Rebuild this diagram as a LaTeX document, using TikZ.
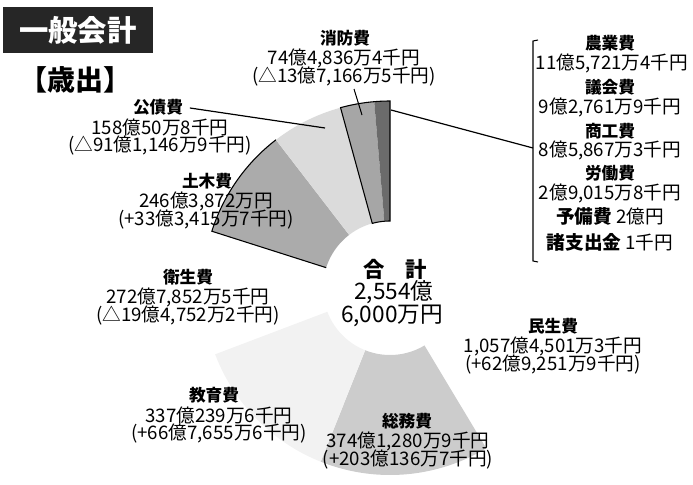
\documentclass[tikz,border=0pt]{standalone}
\usepackage{fontspec}
\setmainfont{Noto Sans CJK JP}
\newcommand\slicefill[3]{\path[#1] plot[domain=#2:#3,samples=40] ({390-187*sin(\x)},{288-187*cos(\x)}) -- plot[domain=#3:#2,samples=40] ({390-67*sin(\x)},{288-67*cos(\x)}) -- cycle;}
\newcommand\mklabel[7]{%
  \node[nm]  (#1-a) at (#2,#4) {#5};
  \node[num] (#1-b) at (#3,#4+20) {#6};
  \node[num] (#1-c) at (#3,#4+39) {#7};}
\begin{document}
\begin{tikzpicture}[x=0.75pt,y=-0.75pt,
  nm/.style={font=\bfseries\fontsize{12.5}{14}\selectfont, inner sep=0pt},
  num/.style={font=\fontsize{14}{16}\selectfont, inner sep=0pt},
  big/.style={font=\fontsize{17}{19}\selectfont, inner sep=0pt},
  lead/.style={draw=black, line width=0.9pt},
  thinlead/.style={draw=black, line width=0.75pt},
  edge/.style={draw=black, line width=0.8pt},
]
\useasboundingbox (0,0) rectangle (693,485);
% ---- donut slices
\slicefill{fill=black!20}{158.26}{210.98}
\slicefill{fill=black!5}{110.77}{158.26}
\slicefill{fill=black!33}{37.60}{72.33}
\slicefill{fill=black!14}{15.34}{37.60}
\slicefill{fill=black!35}{4.84}{15.34}
\slicefill{fill=black!58}{0}{4.84}
% outlines
\draw[edge] plot[domain=37.6:72.33,samples=40] ({390-187*sin(\x)},{288-187*cos(\x)}) -- ({390-67*sin(72.33)},{288-67*cos(72.33)});
\draw[edge] plot[domain=0:15.34,samples=20] ({390-187*sin(\x)},{288-187*cos(\x)}) -- plot[domain=15.34:0,samples=20] ({390-67*sin(\x)},{288-67*cos(\x)}) -- cycle;
% ---- title
\node[fill=black!85, minimum width=150*0.75pt, minimum height=46*0.75pt, inner sep=0pt,
      text=white, font=\bfseries\fontsize{22}{24}\selectfont] (title) at (78,30) {一般会計};
\node[font=\bfseries\fontsize{21}{23}\selectfont, inner sep=0pt] (saishutsu) at (76,80) {【歳出】};
% ---- labels
\mklabel{shobo}{345}{344}{38}{消防費}{74億4,836万4千円}{(△13億7,166万5千円)}
\mklabel{kosai}{158}{160}{107}{公債費}{158億50万8千円}{(△91億1,146万9千円)}
\mklabel{doboku}{207}{206}{181}{土木費}{246億3,872万円}{(+33億3,415万7千円)}
\mklabel{eisei}{188}{188}{277}{衛生費}{272億7,852万5千円}{(△19億4,752万2千円)}
\mklabel{kyoiku}{214}{219}{395}{教育費}{337億239万6千円}{(+66億7,655万6千円)}
\mklabel{somu}{407}{408}{421}{総務費}{374億1,280万9千円}{(+203億136万7千円)}
\mklabel{minsei}{553}{553}{326}{民生費}{1,057億4,501万3千円}{(+62億9,251万9千円)}
% total
\node[font=\bfseries\fontsize{16}{18}\selectfont, inner sep=0pt] (total-a) at (395,269) {合　計};
\node[big] (total-b) at (394,292) {2,554億};
\node[big] (total-c) at (392,316) {6,000万円};
% right column
\node[nm]  (nogyo-a) at (610,43) {農業費};
\node[num] (nogyo-b) at (612,63) {11億5,721万4千円};
\node[nm]  (gikai-a) at (610,87) {議会費};
\node[num] (gikai-b) at (610,107) {9億2,761万9千円};
\node[nm]  (shoko-a) at (610,131) {商工費};
\node[num] (shoko-b) at (610,150) {8億5,867万3千円};
\node[nm]  (rodo-a) at (610,173) {労働費};
\node[num] (rodo-b) at (610,193) {2億9,015万8千円};
\node[num] (yobi) at (610,216) {\bfseries 予備費 \mdseries 2億円};
\node[num] (shoshi) at (610,242) {\bfseries 諸支出金 \mdseries 1千円};
% bracket
\coordinate (brk-top) at (538,40);
\coordinate (brk-bot) at (538,262);
\coordinate (brk-mid) at (533,148);
\draw[line width=0.8pt] (brk-top) -- (533,41) -- (533,261) -- (brk-bot);
% leaders
\coordinate (kosai-tip) at (325,128);
\draw[lead, shorten <=5pt] (kosai-a.east) -- (kosai-tip);
\coordinate (shobo-from) at (354,89);
\coordinate (shobo-tip) at (362,115);
\draw[thinlead] (shobo-from) -- (shobo-tip);
\coordinate (other-tip) at (391,110);
\draw[lead] (other-tip) -- (brk-mid);
\end{tikzpicture}
\end{document}
